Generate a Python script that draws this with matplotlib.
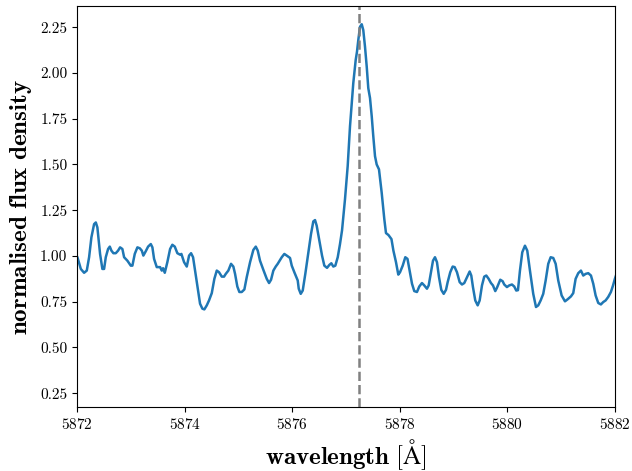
"""
Line profile around the He I 5876 region.

Normalised flux density against wavelength, with the line centre marked
by a dashed vertical line. Values were read off the published figure.
"""

import matplotlib
matplotlib.use("Agg")  # headless backend, no display needed
import matplotlib.pyplot as plt


# Wavelength samples in Angstrom.
WAVELENGTH = [
    5871.95, 5872.006, 5872.069, 5872.130, 5872.180, 5872.223, 5872.266,
    5872.316, 5872.348, 5872.377, 5872.427, 5872.470, 5872.502, 5872.533,
    5872.576, 5872.608, 5872.638, 5872.675, 5872.719, 5872.762, 5872.799,
    5872.842, 5872.874, 5872.935, 5872.998, 5873.028, 5873.072, 5873.121,
    5873.165, 5873.203, 5873.232, 5873.277, 5873.320, 5873.370, 5873.400,
    5873.431, 5873.481, 5873.543, 5873.574, 5873.598, 5873.630, 5873.678,
    5873.729, 5873.771, 5873.816, 5873.864, 5873.914, 5873.939, 5873.989,
    5874.039, 5874.082, 5874.119, 5874.156, 5874.193, 5874.243, 5874.286,
    5874.329, 5874.366, 5874.411, 5874.453, 5874.504, 5874.552, 5874.597,
    5874.639, 5874.690, 5874.732, 5874.764, 5874.812, 5874.862, 5874.905,
    5874.937, 5874.979, 5875.017, 5875.061, 5875.110, 5875.154, 5875.216,
    5875.277, 5875.322, 5875.359, 5875.401, 5875.463, 5875.526, 5875.569,
    5875.606, 5875.649, 5875.693, 5875.730, 5875.760, 5875.805, 5875.853,
    5875.898, 5875.959, 5875.991, 5876.039, 5876.102, 5876.121, 5876.158,
    5876.195, 5876.243, 5876.288, 5876.349, 5876.392, 5876.424, 5876.455,
    5876.504, 5876.554, 5876.597, 5876.647, 5876.690, 5876.727, 5876.764,
    5876.801, 5876.846, 5876.888, 5876.926, 5876.981, 5877.031, 5877.074,
    5877.106, 5877.135, 5877.180, 5877.204, 5877.228, 5877.260, 5877.292,
    5877.321, 5877.353, 5877.385, 5877.414, 5877.446, 5877.478, 5877.507,
    5877.539, 5877.570, 5877.613, 5877.663, 5877.712, 5877.743, 5877.790,
    5877.845, 5877.881, 5877.929, 5877.972, 5878.004, 5878.054, 5878.102,
    5878.143, 5878.180, 5878.227, 5878.269, 5878.319, 5878.362, 5878.412,
    5878.455, 5878.505, 5878.537, 5878.580, 5878.617, 5878.654, 5878.691,
    5878.729, 5878.771, 5878.816, 5878.859, 5878.890, 5878.938, 5878.983,
    5879.020, 5879.063, 5879.113, 5879.156, 5879.199, 5879.249, 5879.299,
    5879.329, 5879.360, 5879.403, 5879.448, 5879.485, 5879.528, 5879.570,
    5879.608, 5879.652, 5879.695, 5879.732, 5879.775, 5879.806, 5879.838,
    5879.868, 5879.912, 5879.942, 5879.992, 5880.035, 5880.085, 5880.128,
    5880.165, 5880.197, 5880.234, 5880.277, 5880.327, 5880.370, 5880.420,
    5880.481, 5880.532, 5880.574, 5880.619, 5880.667, 5880.712, 5880.760,
    5880.805, 5880.853, 5880.898, 5880.946, 5881.009, 5881.071, 5881.120,
    5881.182, 5881.225, 5881.269, 5881.318, 5881.368, 5881.411, 5881.455,
    5881.504, 5881.554, 5881.597, 5881.641, 5881.690, 5881.739, 5881.782,
    5881.827, 5881.875, 5881.925, 5881.965, 5881.999, 5882.05,
]

# Normalised flux density at each wavelength sample.
FLUX = [
    1.02, 0.993, 0.929, 0.908, 0.920, 0.993, 1.102,
    1.174, 1.183, 1.156, 1.011, 0.929, 0.929, 0.993,
    1.038, 1.051, 1.029, 1.015, 1.015, 1.029, 1.047,
    1.038, 0.993, 0.974, 0.947, 0.947, 1.011, 1.047,
    1.042, 1.029, 1.002, 1.026, 1.051, 1.065, 1.047,
    0.984, 0.939, 0.939, 0.920, 0.933, 0.908, 0.966,
    1.038, 1.061, 1.051, 1.015, 1.007, 1.011, 0.966,
    0.942, 1.002, 1.015, 0.993, 0.920, 0.821, 0.739,
    0.712, 0.708, 0.730, 0.757, 0.797, 0.875, 0.920,
    0.911, 0.887, 0.887, 0.902, 0.920, 0.957, 0.942,
    0.902, 0.833, 0.803, 0.803, 0.817, 0.884, 0.966,
    1.033, 1.051, 1.029, 0.974, 0.924, 0.875, 0.852,
    0.870, 0.920, 0.942, 0.957, 0.971, 0.993, 1.011,
    1.002, 0.989, 0.947, 0.911, 0.866, 0.821, 0.793,
    0.811, 0.902, 0.993, 1.120, 1.189, 1.196, 1.165,
    1.083, 1.002, 0.947, 0.935, 0.951, 0.960, 0.942,
    0.947, 0.993, 1.065, 1.140, 1.310, 1.491, 1.708,
    1.835, 1.944, 2.071, 2.116, 2.179, 2.252, 2.266,
    2.234, 2.143, 2.034, 1.917, 1.863, 1.763, 1.654,
    1.545, 1.500, 1.473, 1.346, 1.201, 1.125, 1.114,
    1.092, 1.029, 0.966, 0.898, 0.911, 0.947, 0.993,
    0.984, 0.924, 0.848, 0.808, 0.803, 0.833, 0.852,
    0.839, 0.821, 0.839, 0.911, 0.974, 0.993, 0.966,
    0.884, 0.815, 0.793, 0.815, 0.857, 0.911, 0.942,
    0.939, 0.911, 0.857, 0.844, 0.852, 0.884, 0.915,
    0.893, 0.830, 0.757, 0.730, 0.757, 0.839, 0.887,
    0.893, 0.875, 0.852, 0.839, 0.808, 0.826, 0.848,
    0.870, 0.862, 0.844, 0.830, 0.839, 0.844, 0.833,
    0.811, 0.813, 0.920, 1.020, 1.056, 1.029, 0.920,
    0.793, 0.721, 0.730, 0.757, 0.793, 0.866, 0.957,
    0.993, 0.989, 0.957, 0.866, 0.784, 0.752, 0.763,
    0.779, 0.797, 0.875, 0.906, 0.920, 0.893, 0.902,
    0.906, 0.893, 0.848, 0.784, 0.743, 0.735, 0.748,
    0.757, 0.776, 0.803, 0.839, 0.875, 0.92,
]

LINE_CENTRE = 5877.25
X_LIMITS = (5872, 5882)
Y_LIMITS = (0.175, 2.365)
Y_TICKS = [0.25, 0.50, 0.75, 1.00, 1.25, 1.50, 1.75, 2.00, 2.25]


def main():
    plt.rcParams["font.family"] = "serif"
    plt.rcParams["font.serif"] = ["cmr10", "DejaVu Serif"]
    plt.rcParams["mathtext.fontset"] = "cm"
    plt.rcParams["axes.unicode_minus"] = False
    plt.rcParams["axes.formatter.use_mathtext"] = True

    fig = plt.figure(figsize=(6.32, 4.71), dpi=100)
    ax = fig.add_axes([0.122, 0.136, 0.851, 0.851])

    ax.plot(WAVELENGTH, FLUX, color="#1f77b4", linewidth=1.8)
    ax.axvline(LINE_CENTRE, color="grey", linestyle="--", linewidth=1.8)

    ax.set_xlim(*X_LIMITS)
    ax.set_ylim(*Y_LIMITS)
    ax.set_yticks(Y_TICKS)
    ax.set_yticklabels([f"{t:.2f}" for t in Y_TICKS])
    ax.tick_params(labelsize=11)

    ax.set_xlabel(r"$\mathbf{wavelength}\ [\mathrm{\AA}]$", fontsize=18)
    ax.set_ylabel(r"$\mathbf{normalised\ flux\ density}$", fontsize=18)

    fig.savefig("out.png", dpi=100)
    plt.close(fig)


if __name__ == "__main__":
    main()
